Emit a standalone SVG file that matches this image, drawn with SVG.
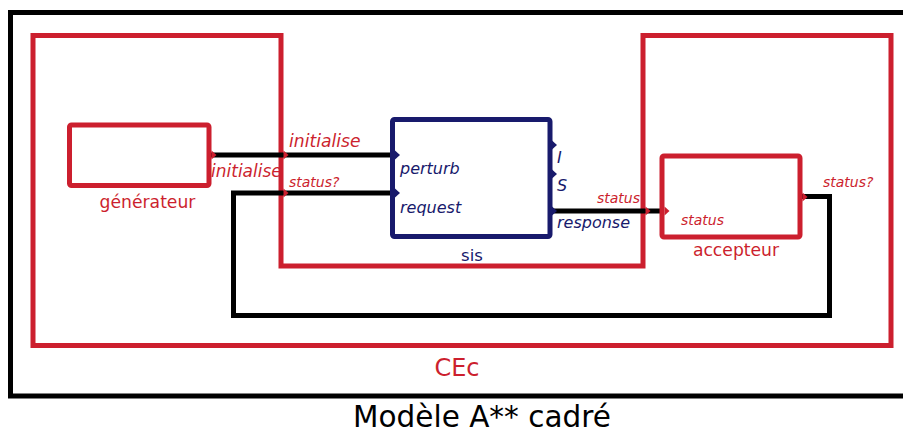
<svg xmlns="http://www.w3.org/2000/svg" width="903" height="430" viewBox="0 0 903 430">
<style>
.red{stroke:#cc1f2e;fill:none;stroke-width:5}
.blue{stroke:#181a6c;fill:none;stroke-width:5}
.wire{stroke:#000;fill:none;stroke-width:5}
.frame{stroke:#000;fill:none;stroke-width:5}
.tr{fill:#cc1f2e}
.tb{fill:#181a6c}
text{font-family:"DejaVu Sans","Liberation Sans",sans-serif}
.lr{fill:#cc1f2e}
.lb{fill:#181a6c}
.it{font-style:italic}
</style>
<defs>
<path id="tri" d="M0,-4.5 L5,0 L0,4.5 Z"/>
</defs>
<g id="frame">
<rect class="frame" x="10.5" y="12.5" width="910" height="383.5"/>
<text x="482" y="427" font-size="29.5" text-anchor="middle" fill="#000">Modèle A** cadré</text>
</g>
<g id="CEc">
<path class="red" d="M33,35.5 H281 V266 H643 V35.5 H891 V345.5 H33 Z"/>
<text class="lr" x="457" y="376" font-size="24" text-anchor="middle">CEc</text>
</g>
<g id="connectors">
<path class="wire" d="M211,155 H392"/>
<path class="wire" d="M392,193 H233.5 V315.5 H829.5 V196.5 H800"/>
<path class="wire" d="M550,211 H662"/>
</g>
<g id="generateur">
<rect class="red" x="69.5" y="125" width="139.5" height="60.5" rx="2"/>
<text class="lr" x="147.5" y="208" font-size="17.2" text-anchor="middle">générateur</text>
<use href="#tri" class="tr" x="211.5" y="155"/>
<text class="lr it" x="211" y="177" font-size="17">initialise</text>
</g>
<g id="CEc-ports">
<use href="#tri" class="tr" x="283.5" y="155"/>
<use href="#tri" class="tr" x="283.5" y="193"/>
<use href="#tri" class="tr" x="645.5" y="211"/>
<text class="lr it" x="289" y="147" font-size="17.2">initialise</text>
<text class="lr it" x="289" y="187" font-size="14">status?</text>
<text class="lr it" x="640" y="203" font-size="14" text-anchor="end">status</text>
<text class="lr it" x="823" y="187" font-size="14">status?</text>
</g>
<g id="sis">
<rect class="blue" x="392.5" y="119.5" width="157.5" height="117" rx="2"/>
<use href="#tri" class="tb" x="395" y="155"/>
<use href="#tri" class="tb" x="395" y="193"/>
<use href="#tri" class="tb" x="552" y="145"/>
<use href="#tri" class="tb" x="552" y="174"/>
<use href="#tri" class="tb" x="552" y="211"/>
<text class="lb it" x="400" y="174" font-size="16">perturb</text>
<text class="lb it" x="400" y="213" font-size="16">request</text>
<text class="lb it" x="557" y="163" font-size="16">I</text>
<text class="lb it" x="557" y="191" font-size="16">S</text>
<text class="lb it" x="557" y="228" font-size="16">response</text>
<text class="lb" x="472" y="261" font-size="16.5" text-anchor="middle">sis</text>
</g>
<g id="accepteur">
<rect class="red" x="662" y="156" width="138" height="81" rx="2"/>
<use href="#tri" class="tr" x="664.5" y="211"/>
<use href="#tri" class="tr" x="802.5" y="197"/>
<text class="lr it" x="681" y="225" font-size="14">status</text>
<text class="lr" x="736" y="256" font-size="17.2" text-anchor="middle">accepteur</text>
</g>
</svg>
